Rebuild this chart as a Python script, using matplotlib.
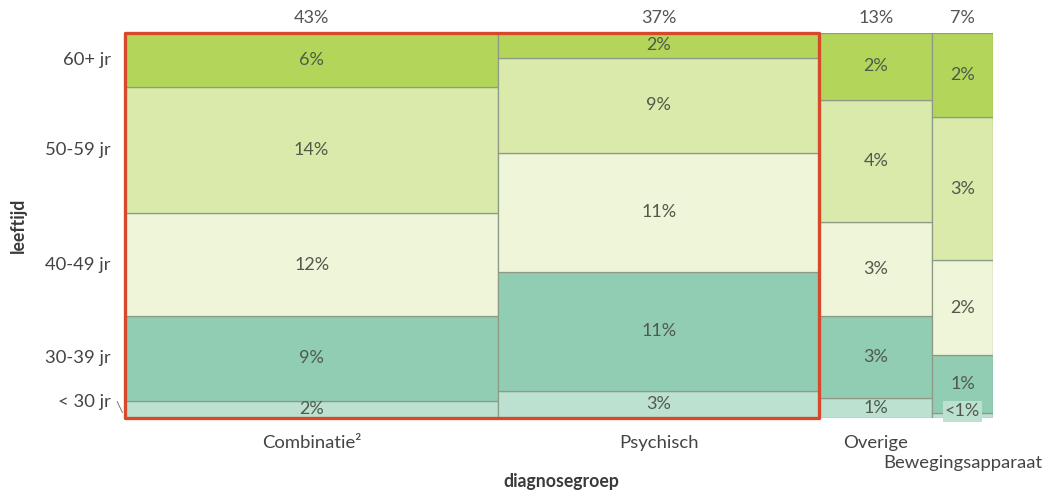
import matplotlib
matplotlib.use("Agg")
import matplotlib.pyplot as plt
import numpy as np
from matplotlib.patches import Rectangle

plt.rcParams['font.family'] = ['Lato', 'DejaVu Sans']

# ---- data ----
groups = ["Combinatie²", "Psychisch", "Overige", "Bewegingsapparaat"]
group_totals = [43, 37, 13, 7]
group_labels = ["43%", "37%", "13%", "7%"]
ages = ["< 30 jr", "30-39 jr", "40-49 jr", "50-59 jr", "60+ jr"]  # bottom -> top
# share of all cases (%) per age group, bottom -> top
combinatie = [1.93, 9.46, 11.5, 14.07, 6.03]
psychisch = [2.62, 11.44, 11.44, 9.10, 2.40]
overige = [0.68, 2.77, 3.17, 4.12, 2.26]
beweging = [0.09, 1.05, 1.73, 2.60, 1.53]
combinatie_lbl = ["2%", "9%", "12%", "14%", "6%"]
psychisch_lbl = ["3%", "11%", "11%", "9%", "2%"]
overige_lbl = ["1%", "3%", "3%", "4%", "2%"]
beweging_lbl = ["<1%", "1%", "2%", "3%", "2%"]

values = [combinatie, psychisch, overige, beweging]
labels = [combinatie_lbl, psychisch_lbl, overige_lbl, beweging_lbl]
colors = ["#bde1d1", "#91cdb3", "#eef5d8", "#d9eaab", "#b3d65a"]
edge = "#8c9a86"
txt = "#505a4a"
axtxt = "#444444"

fig = plt.figure(figsize=(10.48, 4.91), dpi=100)
ax = fig.add_axes([125/1048, 1-418/491, 868/1048, 385/491])

total = sum(group_totals)
widths = np.array(group_totals) / total
lefts = np.concatenate([[0], np.cumsum(widths)[:-1]])

for gi, (vals, lbls) in enumerate(zip(values, labels)):
    vals = np.array(vals)
    h = vals / vals.sum()
    bottoms = np.concatenate([[0], np.cumsum(h)[:-1]])
    ax.bar(np.full(len(h), lefts[gi]), h, width=widths[gi], bottom=bottoms,
           align='edge', color=colors, edgecolor=edge, linewidth=0.9)
    cx = lefts[gi] + widths[gi] / 2
    for b, hh, lb in zip(bottoms, h, lbls):
        y = b + hh / 2
        if hh < 0.03:
            y = b + 0.017
            ax.text(cx, y, lb, ha='center', va='center', fontsize=13, color=txt,
                    bbox=dict(boxstyle='square,pad=0.12', fc=colors[0], ec='none'), zorder=5)
        else:
            ax.text(cx, y, lb, ha='center', va='center', fontsize=13, color=txt, zorder=5)
    ax.text(cx, 1.018, group_labels[gi], ha='center', va='bottom', fontsize=13,
            color="#555555")

ax.set_xlim(0, 1)
ax.set_ylim(0, 1)
for s in ax.spines.values():
    s.set_visible(False)
ax.set_xticks([])
ax.set_yticks([])

# y labels at centers of first column
c = np.array(combinatie) / sum(combinatie)
cb = np.concatenate([[0], np.cumsum(c)[:-1]])
centers = cb + c / 2
for i, (yc, a) in enumerate(zip(centers, ages)):
    if i == 0:
        ax.text(-0.0165, yc + 0.02, a, ha='right', va='center', fontsize=13.3, color=axtxt,
                transform=ax.transAxes)
        ax.plot([-0.009, -0.003], [yc + 0.02, yc - 0.008], color="#777777", lw=0.7,
                clip_on=False, transform=ax.transAxes)
    else:
        ax.text(-0.0165, yc, a, ha='right', va='center', fontsize=13.3, color=axtxt,
                transform=ax.transAxes)

# category labels
for gi, g in enumerate(groups):
    cx = lefts[gi] + widths[gi] / 2
    yy = -0.065 if gi < 3 else -0.117
    ax.text(cx, yy, g, ha='center', va='center', fontsize=13.3, color=axtxt,
            transform=ax.transAxes)

# red highlight around first two groups
rect = Rectangle((0, 0), widths[0] + widths[1], 1, fill=False, ec="#d6492b",
                 lw=2.4, clip_on=False, zorder=10, joinstyle='round')
ax.add_patch(rect)

fig.text(561/1048, 1-481/491, "diagnosegroep", ha='center', va='center',
         fontsize=12.7, fontweight='bold', color="#3a3a3a")
fig.text(18/1048, 1-225/491, "leeftijd", ha='center', va='center', rotation=90,
         fontsize=12.7, fontweight='bold', color="#3a3a3a")

fig.savefig("out.png", dpi=100)
